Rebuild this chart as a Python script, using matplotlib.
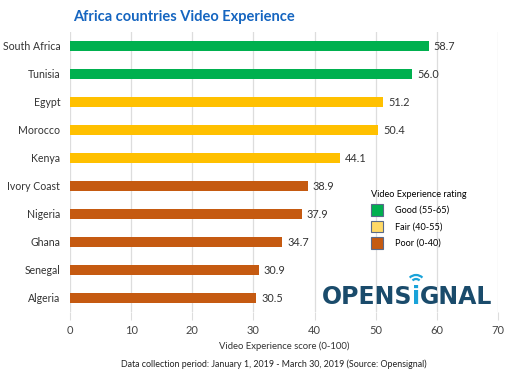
import matplotlib
matplotlib.use("Agg")
import matplotlib.pyplot as plt
from matplotlib.patches import Patch, Arc

countries = ["South Africa", "Tunisia", "Egypt", "Morocco", "Kenya",
             "Ivory Coast", "Nigeria", "Ghana", "Senegal", "Algeria"]
scores = [58.7, 56.0, 51.2, 50.4, 44.1, 38.9, 37.9, 34.7, 30.9, 30.5]
ratings = ["Good", "Good", "Fair", "Fair", "Fair", "Poor", "Poor", "Poor", "Poor", "Poor"]
rating_labels = ["Good (55-65)", "Fair (40-55)", "Poor (0-40)"]
rating_colors = {"Good": "#00B04F", "Fair": "#FFC000", "Poor": "#C55A11"}
legend_colors = ["#00B04F", "#FFD966", "#C55A11"]
xticks = [0, 10, 20, 30, 40, 50, 60, 70]

plt.rcParams['font.family'] = ['Lato', 'DejaVu Sans']

fig = plt.figure(figsize=(5.12, 3.76), dpi=100)
ax = fig.add_axes([70/512, 1-312/376, 428/512, 280/376])

ypos = list(range(len(countries)))
ax.barh(ypos, scores, height=0.37, color=[rating_colors[r] for r in ratings], zorder=3)
for y, v in zip(ypos, scores):
    ax.text(v + 0.8, y, f"{v:.1f}", va="center", ha="left", fontsize=7.8, color="#333333")

ax.set_xlim(0, 70)
ax.set_ylim(9.5, -0.5)
ax.set_yticks(ypos)
ax.set_yticklabels(countries, fontsize=7.6, color="#333333")
ax.set_xticks(xticks)
ax.set_xticklabels([str(t) for t in xticks], fontsize=8, color="#444444")
ax.tick_params(axis="y", length=0, pad=7)
ax.tick_params(axis="x", length=6, color="#dddddd", pad=3)
ax.grid(axis="x", color="#dddddd", linewidth=0.9, zorder=0)
for s in ax.spines.values():
    s.set_visible(False)
ax.set_xlabel("Video Experience score (0-100)", fontsize=6.8, color="#333333", labelpad=4)

fig.text(73/512, 1-17/376, "Africa countries Video Experience", fontsize=10.5,
         fontweight="bold", color="#1565C0", va="center", ha="left")
fig.text(274/512, 1-364/376,
         "Data collection period: January 1, 2019 - March 30, 2019 (Source: Opensignal)",
         fontsize=6.4, color="#222222", ha="center", va="center")

handles = [Patch(facecolor=c, edgecolor="#5a6a8a", linewidth=0.8) for c in legend_colors]
leg = ax.legend(handles, rating_labels, title="Video Experience rating",
                loc="upper left", bbox_to_anchor=(371/512, 1-190/376),
                bbox_transform=fig.transFigure, frameon=False,
                fontsize=6.6, title_fontsize=6.6, handlelength=1.35, handleheight=1.55,
                handletextpad=1.3, labelspacing=0.55, borderpad=0, borderaxespad=0)
leg._legend_box.align = "left"
leg.set_zorder(5)

# logo
fig.canvas.draw()
r = fig.canvas.get_renderer()
logo_col = "#1A4B6B"
teal = "#1AA3D9"
x0, yb = 322/512, 1-304/376
fs = 17
kw = dict(fontsize=fs, fontweight="bold", family="DejaVu Sans", va="baseline", ha="left")
t1 = fig.text(x0, yb, "OPENS", color=logo_col, **kw)
w1 = t1.get_window_extent(r).x1 / fig.bbox.width
t2 = fig.text(w1 - 0.001, yb, "i", color=teal, **kw)
e2 = t2.get_window_extent(r)
w2 = e2.x1 / fig.bbox.width
t3 = fig.text(w2 - 0.001, yb, "GNAL", color=logo_col, **kw)
cx = (e2.x0 + e2.x1) / 2
cy = e2.y1 + 1
for rad in (5, 9):
    fig.patches.append(Arc((cx, cy), rad*2, rad*2, theta1=45, theta2=135,
                           transform=None, color=teal, linewidth=1.6))

fig.savefig("out.png", dpi=100, facecolor="white")
